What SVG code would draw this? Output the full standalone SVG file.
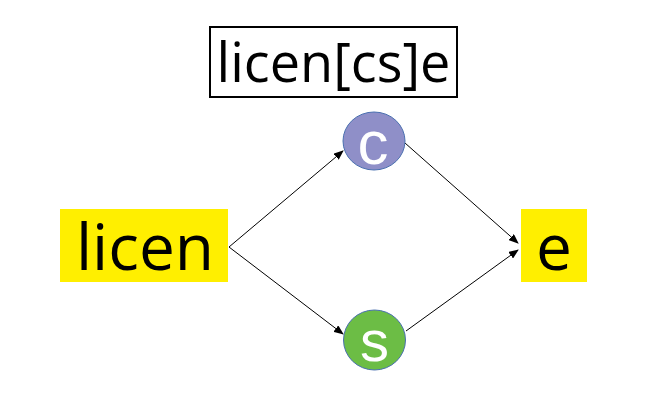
<svg xmlns="http://www.w3.org/2000/svg" width="660" height="401" viewBox="0 0 660 401">
<defs>
<style>
.t{font-family:"Open Sans","DejaVu Sans",sans-serif;fill:#000}
.w{font-family:"Liberation Sans",Arial,sans-serif;fill:#fff}
.c{stroke:#000;stroke-width:1;fill:none}
</style>
<marker id="ah" markerWidth="10" markerHeight="8" refX="9" refY="4" orient="auto" markerUnits="userSpaceOnUse">
<path d="M0,0 L10,4 L0,8 Z" fill="#000"/>
</marker>
</defs>
<rect width="660" height="401" fill="#fff"/>
<g id="title">
<rect x="210" y="27" width="247" height="70" fill="#fff" stroke="#000" stroke-width="2"/>
<text class="t" x="333.5" y="82" font-size="54" text-anchor="middle">licen[cs]e</text>
</g>
<g id="connectors">
<line class="c" x1="229" y1="247" x2="343" y2="151" marker-end="url(#ah)"/>
<line class="c" x1="229" y1="247" x2="343" y2="334" marker-end="url(#ah)"/>
<line class="c" x1="405" y1="143" x2="518" y2="243" marker-end="url(#ah)"/>
<line class="c" x1="406" y1="331" x2="518" y2="250" marker-end="url(#ah)"/>
</g>
<g id="licen">
<rect x="60" y="209" width="168" height="73" fill="#ffef00"/>
<text class="t" x="145" y="270" font-size="64" text-anchor="middle">licen</text>
</g>
<g id="c">
<ellipse cx="374" cy="141" rx="31" ry="29" fill="#8f8fc8" stroke="#4a70b0" stroke-width="1"/>
<text class="w" x="373" y="164" font-size="62" text-anchor="middle">c</text>
</g>
<g id="s">
<ellipse cx="374.5" cy="340" rx="31" ry="30" fill="#6cbd45" stroke="#4a70b0" stroke-width="1"/>
<text class="w" x="374.5" y="361" font-size="58" text-anchor="middle">s</text>
</g>
<g id="e">
<rect x="521" y="209" width="66" height="73" fill="#ffef00"/>
<text class="t" x="554" y="270" font-size="64" text-anchor="middle">e</text>
</g>
</svg>
